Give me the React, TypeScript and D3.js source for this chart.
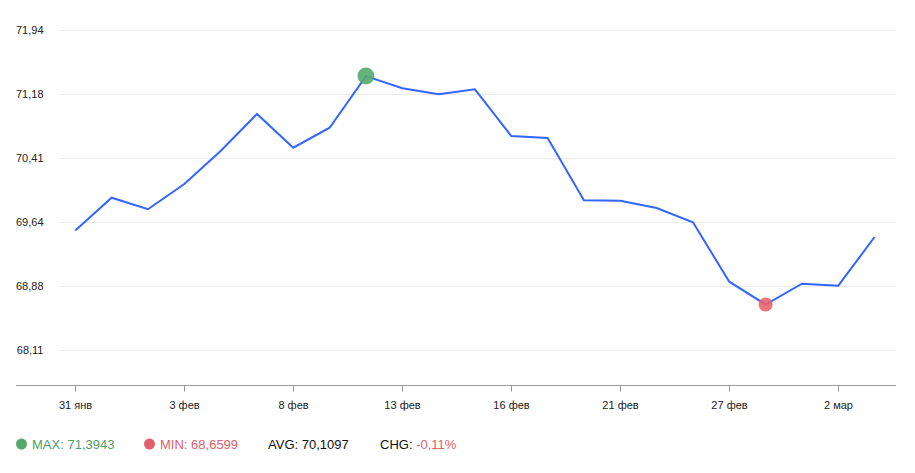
import React from "react";
import * as d3 from "d3";

const categories = [
  "31 янв", "1 фев", "2 фев", "3 фев", "6 фев", "7 фев", "8 фев", "9 фев", "10 фев",
  "13 фев", "14 фев", "15 фев", "16 фев", "17 фев", "20 фев", "21 фев", "22 фев",
  "24 фев", "27 фев", "28 фев", "1 мар", "2 мар", "3 мар",
];
const values = [
  69.545, 69.938, 69.8, 70.102, 70.497, 70.94, 70.537, 70.776, 71.3943,
  71.248, 71.176, 71.236, 70.677, 70.653, 69.907, 69.903, 69.815,
  69.644, 68.933, 68.6599, 68.909, 68.885, 69.468,
];
const xTickLabels = ["31 янв", "3 фев", "8 фев", "13 фев", "16 фев", "21 фев", "27 фев", "2 мар"];
const yTicks = [68.112, 68.878, 69.644, 70.41, 71.176, 71.942];
const yTickLabels = ["68,11", "68,88", "69,64", "70,41", "71,18", "71,94"];
const legendLabels = ["MAX:", "MIN:", "AVG:", "CHG:"];
const legendValues = ["71,3943", "68,6599", "70,1097", "-0,11%"];

const W = 915;
const H = 473;
const FONT = "Arial, 'Liberation Sans', sans-serif";

export default function App() {
  const x = d3.scalePoint<string>().domain(categories).range([75.3, 874.6]);
  const y = d3.scaleLinear().domain([yTicks[0], yTicks[yTicks.length - 1]]).range([350.3, 30.3]);
  const line = d3
    .line<number>()
    .x((_, i) => x(categories[i]) as number)
    .y((d) => y(d));

  const maxI = values.indexOf(d3.max(values) as number);
  const minI = values.indexOf(d3.min(values) as number);
  const axisY = 385.5;

  return (
    <svg
      width={W}
      height={H}
      style={{ position: "absolute", left: 0, top: 0, fontFamily: FONT }}
    >
      <rect width={W} height={H} fill="#fff" />
      {yTicks.map((t, i) => (
        <g key={i}>
          <line x1={61} x2={896} y1={Math.round(y(t)) + 0.5} y2={Math.round(y(t)) + 0.5} stroke="#ebebeb" strokeWidth={1} />
          <text x={43.5} y={y(t) + 4} textAnchor="end" fontSize={11} fill="#222">
            {yTickLabels[i]}
          </text>
        </g>
      ))}
      <line x1={16} x2={896} y1={axisY} y2={axisY} stroke="#999" strokeWidth={1} />
      {xTickLabels.map((c, i) => {
        const px = Math.round(x(c) as number) + 0.5;
        return (
          <g key={c}>
            <line x1={px} x2={px} y1={axisY} y2={axisY + 6} stroke="#999" strokeWidth={1} />
            <text x={px} y={409} textAnchor="middle" fontSize={11} fill="#222">
              {c}
            </text>
          </g>
        );
      })}
      <path d={line(values) || ""} fill="none" stroke="#3366ff" strokeWidth={2} strokeLinejoin="miter" />
      <circle cx={x(categories[maxI])} cy={y(values[maxI])} r={8.5} fill="#57a86b" fillOpacity={0.9} />
      <circle cx={x(categories[minI])} cy={y(values[minI])} r={7} fill="#e8606a" fillOpacity={0.88} />
      <g fontSize={13}>
        <circle cx={21.5} cy={444} r={5.5} fill="#57a86b" />
        <text x={32} y={448.5} fill="#4e9e68">
          {legendLabels[0]} {legendValues[0]}
        </text>
        <circle cx={149.5} cy={444} r={5.5} fill="#e0606a" />
        <text x={160} y={448.5} fill="#e0606a">
          {legendLabels[1]} {legendValues[1]}
        </text>
        <text x={268} y={448.5} fill="#111">
          {legendLabels[2]} {legendValues[2]}
        </text>
        <text x={380} y={448.5} fill="#111">
          {legendLabels[3]} <tspan fill="#e0606a">{legendValues[3]}</tspan>
        </text>
      </g>
    </svg>
  );
}
